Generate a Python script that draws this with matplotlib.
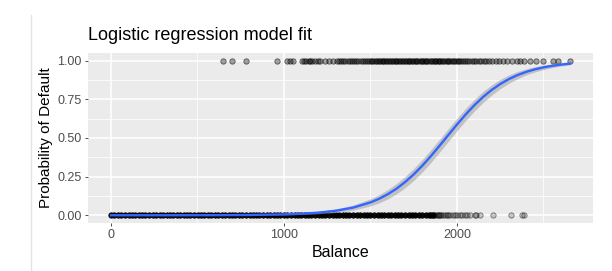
from matplotlib import pyplot as plt
from matplotlib.lines import Line2D
import numpy as np

plt.rcParams['font.family'] = ['Liberation Sans', 'DejaVu Sans']

TITLE = 'Logistic regression model fit'
XLABEL = 'Balance'
YLABEL = 'Probability of Default'

# balances of customers who did not default (y = 0), dense part of the strip
nodefault_dense = [0, 18, 41, 60, 79, 102, 121, 139, 160, 182, 199, 221, 240, 258, 281,
                   300, 322, 339, 361, 380, 398, 420, 441, 459, 480, 502, 519, 540, 561,
                   578, 601, 620, 642, 659, 680, 701, 719, 742, 760, 779, 801, 822, 840,
                   858, 881, 900, 919, 941, 962, 980, 1001, 1019, 1040, 1062, 1080, 1099,
                   1121, 1140, 1158, 1181, 1200, 1222, 1239, 1260, 1281, 1299, 1318, 1341,
                   1360, 1379, 1402, 1420, 1439, 1460, 1481, 1500, 1519, 1542, 1560, 1579,
                   1601, 1620, 1641, 1660, 1679, 1700, 1721, 1740, 1759, 1780, 1801, 1820,
                   1838, 1852, 1861]
# sparse tail of the non-defaults
nodefault_sparse = [1868, 1875, 1883, 1890, 1896, 1902, 1910, 1918, 1931, 1940, 1948, 1960,
                    1975, 1988, 2000, 2017, 2030, 2046, 2060, 2075, 2104, 2110, 2133,
                    2208, 2310, 2374, 2387]
# balances of customers who defaulted (y = 1)
default_bal = [645, 698, 780, 958, 1016, 1035, 1050, 1102, 1118, 1130, 1142, 1150, 1165,
               1179, 1195, 1208, 1237, 1260, 1283, 1306, 1318, 1330, 1342, 1355, 1368,
               1380, 1392, 1405, 1418, 1430, 1445, 1458, 1470, 1480, 1492, 1505, 1512,
               1520, 1530, 1538, 1548, 1555, 1565, 1572, 1580, 1590, 1598, 1605, 1615,
               1622, 1630, 1640, 1648, 1655, 1665, 1672, 1680, 1690, 1698, 1705, 1715,
               1722, 1730, 1740, 1748, 1755, 1765, 1772, 1780, 1790, 1798, 1805, 1815,
               1822, 1830, 1840, 1848, 1855, 1865, 1872, 1880, 1890, 1898, 1905, 1915,
               1922, 1930, 1940, 1948, 1955, 1965, 1975, 1985, 1995, 2005, 2015, 2025,
               2035, 2048, 2060, 2072, 2085, 2098, 2110, 2125, 2140, 2155, 2170, 2188,
               2205, 2225, 2245, 2266, 2289, 2320, 2347, 2364, 2390, 2420, 2460, 2497,
               2555, 2584, 2653]

# fitted curve
fit_x = [0, 200, 400, 600, 800, 1000, 1100, 1200, 1300, 1400, 1500, 1550, 1600, 1650,
         1700, 1750, 1800, 1850, 1900, 1950, 2000, 2050, 2100, 2150, 2200, 2250, 2300,
         2350, 2400, 2450, 2500, 2550, 2600, 2654]
fit_p = [0.0000, 0.0001, 0.0002, 0.0006, 0.0019, 0.0058, 0.0100, 0.0171, 0.0293, 0.0497,
         0.0832, 0.1067, 0.1359, 0.1715, 0.2142, 0.2640, 0.3208, 0.3834, 0.4502, 0.5187,
         0.5866, 0.6514, 0.7109, 0.7641, 0.8100, 0.8488, 0.8808, 0.9068, 0.9276, 0.9440,
         0.9569, 0.9669, 0.9747, 0.9811]
# half width of the grey confidence band
fit_se = [0.0, 0.0, 0.0001, 0.0004, 0.0010, 0.0033, 0.0052, 0.0075, 0.0113, 0.0165,
          0.0230, 0.0267, 0.0302, 0.0335, 0.0365, 0.0389, 0.0404, 0.0413, 0.0416, 0.0413,
          0.0407, 0.0397, 0.0382, 0.0360, 0.0333, 0.0303, 0.0270, 0.0237, 0.0202, 0.0173,
          0.0144, 0.0120, 0.0099, 0.0079]

xticks = [0, 1000, 2000]
yticks = [0.0, 0.25, 0.5, 0.75, 1.0]
ytick_labels = ['0.00', '0.25', '0.50', '0.75', '1.00']

fig = plt.figure(figsize=(6.12, 2.71), dpi=100)
ax = fig.add_axes([88/612, 1-223/271, (593-88)/612, (223-53)/271])

ax.set_facecolor('#EBEBEB')
for s in ax.spines.values():
    s.set_visible(False)

#   grid lines
ax.set_xticks(xticks)
ax.set_xticks([500, 1500, 2500], minor=True)
ax.set_yticks(yticks)
ax.set_yticks([0.125, 0.375, 0.625, 0.875], minor=True)
ax.set_yticklabels(ytick_labels)
ax.grid(which='major', color='white', lw=1.1)
ax.grid(which='minor', color='white', lw=0.55)
ax.set_axisbelow(True)
ax.tick_params(which='minor', length=0)
ax.tick_params(which='major', length=2.5, width=0.6, color='#333333',
               labelcolor='#4D4D4D', labelsize=9, pad=2)

#   points
ax.scatter(nodefault_dense, np.zeros(len(nodefault_dense)), s=15,
           facecolors=(0, 0, 0, 0.95), edgecolors=(0, 0, 0, 0.95), linewidths=0.6, zorder=2)
ax.scatter(nodefault_sparse, np.zeros(len(nodefault_sparse)), s=15,
           facecolors=(0, 0, 0, 0.2), edgecolors=(0, 0, 0, 0.45), linewidths=0.6, zorder=2)
ax.scatter(default_bal, np.ones(len(default_bal)), s=15,
           facecolors=(0, 0, 0, 0.35), edgecolors=(0, 0, 0, 0.55), linewidths=0.6, zorder=2)

#   fitted curve and band
fx = np.array(fit_x)
fp = np.array(fit_p)
fs = np.array(fit_se)
ax.fill_between(fx, fp-fs, fp+fs, color='#999999', alpha=0.5, lw=0, zorder=3)
ax.plot(fx, fp, color='#3366FF', lw=1.7, zorder=4)

ax.set_xlim(-133, 2787)
ax.set_ylim(-0.05, 1.05)

ax.set_xlabel(XLABEL, fontsize=11.5, color='black', labelpad=3)
ax.set_ylabel(YLABEL, fontsize=11, color='black', labelpad=3)
fig.text(88/612, 1-35/271, TITLE, fontsize=13, ha='left', va='center')

#   faint border line at the left of the screenshot
fig.add_artist(Line2D([31/612, 31/612], [0, 1-15/271], color='#E3E3E3', lw=1))

fig.savefig('out.png', dpi=100)
